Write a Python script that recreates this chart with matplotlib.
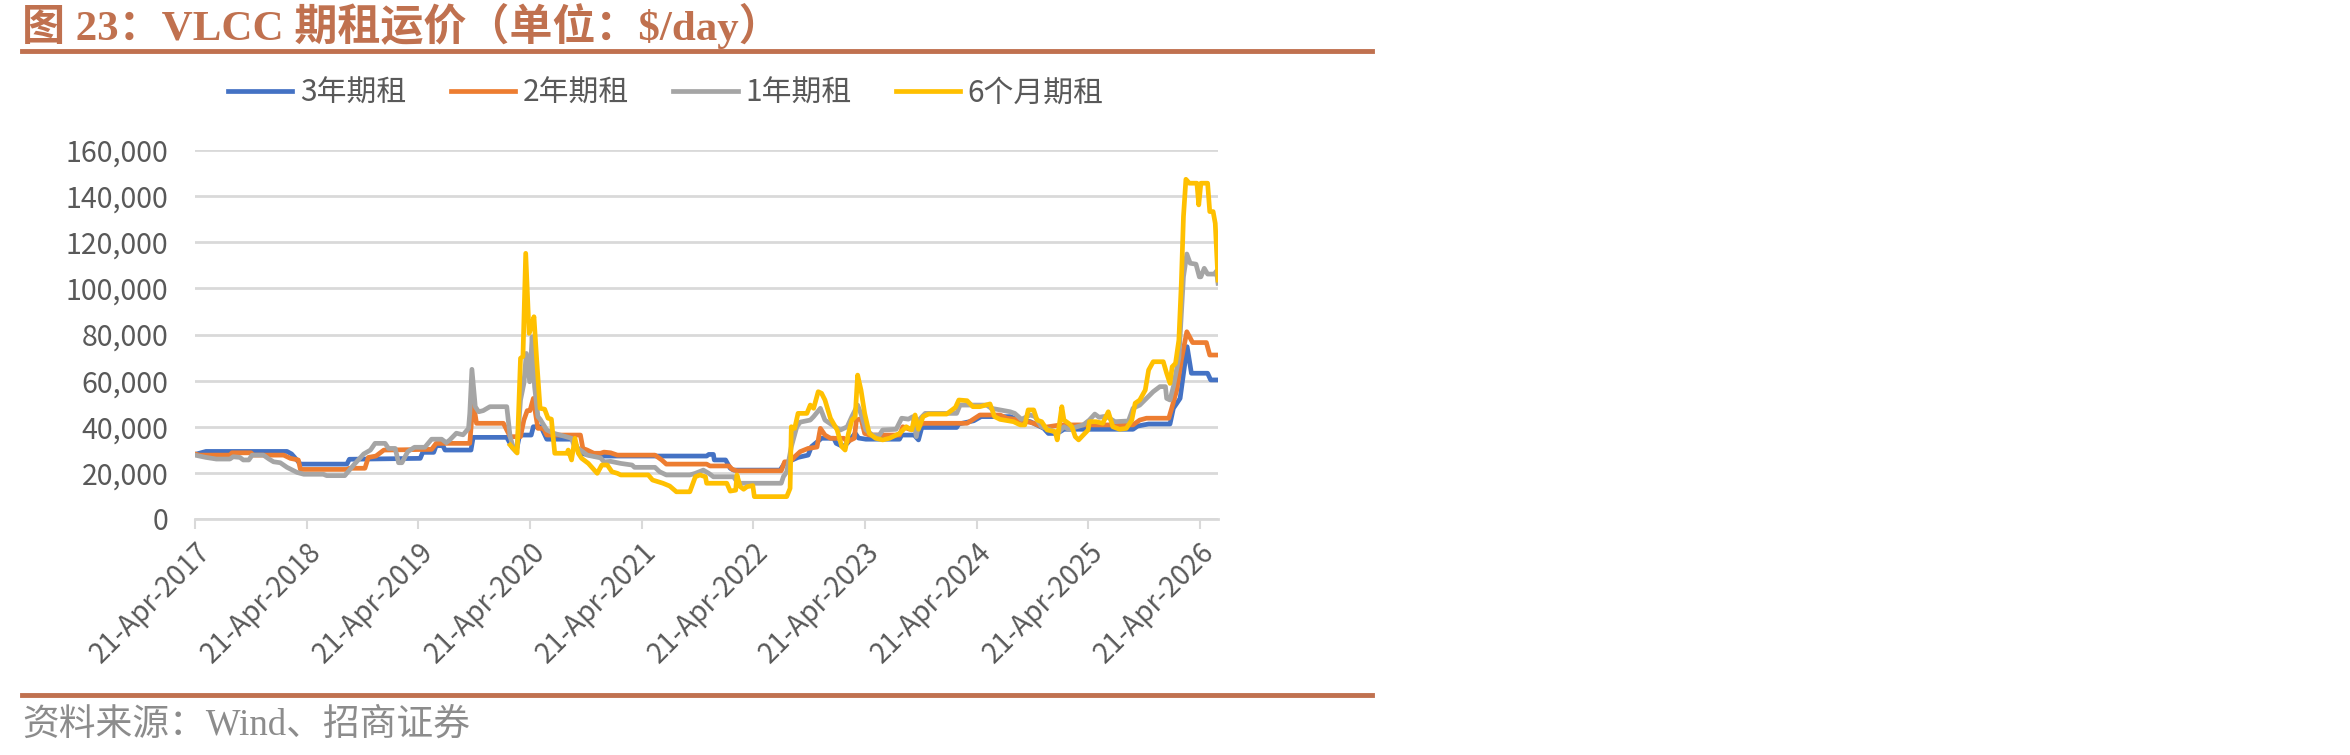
import matplotlib
matplotlib.use('Agg')
import matplotlib.pyplot as plt
import matplotlib.dates as mdates
from matplotlib.lines import Line2D
import pandas as pd
from datetime import datetime

plt.rcParams['font.family'] = ['Noto Sans CJK SC', 'DejaVu Sans']

# ---- data ($/day) ----
blue_dates = ['2017-04-21', '2017-05-27', '2018-02-16', '2018-03-03', '2018-04-01', '2018-08-31', '2018-09-08',
              '2019-04-28', '2019-05-06', '2019-06-11', '2019-06-19', '2019-07-11', '2019-07-18', '2019-10-11',
              '2019-10-18', '2020-02-05', '2020-02-23', '2020-03-07', '2020-03-18', '2020-04-25', '2020-05-02',
              '2020-05-27', '2020-06-15', '2020-09-08', '2020-10-03', '2020-11-20', '2021-11-20', '2021-11-27',
              '2021-12-12', '2021-12-15', '2022-01-21', '2022-02-05', '2022-02-16', '2022-07-18', '2022-08-02',
              '2022-09-15', '2022-10-18', '2022-10-29', '2022-12-01', '2023-01-10', '2023-01-18', '2023-02-09',
              '2023-02-23', '2023-03-21', '2023-04-01', '2023-04-25', '2023-08-13', '2023-08-20', '2023-09-30',
              '2023-10-14', '2023-10-25', '2024-02-16', '2024-02-23', '2024-04-12', '2024-05-06', '2024-08-09',
              '2024-08-31', '2024-10-14', '2024-11-27', '2024-12-12', '2025-01-10', '2025-02-01', '2025-09-15',
              '2025-09-30', '2025-11-05', '2026-01-14', '2026-01-25', '2026-02-16', '2026-03-11', '2026-03-25',
              '2026-05-17', '2026-05-27', '2026-06-20']
blue_vals = [28000, 29300, 29300, 28200, 23800, 23800, 25900,
             26300, 28900, 28900, 31800, 31800, 29900, 29900,
             35400, 35400, 31000, 29200, 36400, 36400, 40000,
             40000, 34600, 34600, 28500, 27300, 27300, 28000,
             28000, 25600, 25600, 22000, 21200, 21200, 24100,
             26700, 27700, 31400, 35000, 35000, 32800, 31400,
             32800, 37200, 35100, 34600, 34600, 36400, 36400,
             34300, 39700, 39700, 41200, 42600, 44400, 44400,
             43200, 42200, 39300, 37100, 37100, 38900, 38900,
             40300, 41200, 41200, 48000, 52300, 74700, 63200,
             63200, 60300, 60300]

orange_dates = ['2017-04-21', '2017-05-06', '2017-08-13', '2017-08-20', '2017-10-21', '2017-10-29', '2018-02-05',
                '2018-02-27', '2018-03-25', '2018-04-01', '2018-08-31', '2018-09-08', '2018-10-29', '2018-11-09',
                '2018-12-04', '2018-12-30', '2019-06-04', '2019-06-19', '2019-10-07', '2019-10-18', '2019-10-29',
                '2020-01-25', '2020-02-05', '2020-02-16', '2020-03-21', '2020-04-01', '2020-04-12', '2020-04-21',
                '2020-05-02', '2020-05-09', '2020-05-17', '2020-06-04', '2020-06-15', '2020-10-03', '2020-10-11',
                '2020-10-25', '2020-11-16', '2020-12-08', '2020-12-19', '2021-01-10', '2021-02-01', '2021-06-04',
                '2021-06-26', '2021-07-11', '2021-11-20', '2021-12-01', '2022-02-01', '2022-02-12', '2022-02-27',
                '2022-07-22', '2022-08-02', '2022-08-20', '2022-09-04', '2022-09-22', '2022-10-18', '2022-11-16',
                '2022-11-27', '2022-12-12', '2022-12-30', '2023-02-12', '2023-02-23', '2023-03-18', '2023-03-25',
                '2023-04-09', '2023-04-21', '2023-05-06', '2023-08-13', '2023-08-24', '2023-09-15', '2023-10-03',
                '2023-10-29', '2024-03-21', '2024-05-02', '2024-07-07', '2024-07-29', '2024-09-11', '2024-10-03',
                '2024-10-25', '2024-11-27', '2025-01-21', '2025-09-15', '2025-10-07', '2025-10-29', '2026-01-10',
                '2026-01-21', '2026-02-05', '2026-02-20', '2026-03-10', '2026-03-29', '2026-05-13', '2026-05-24',
                '2026-06-20']
orange_vals = [28200, 27700, 27700, 28700, 28700, 27700, 27700,
               26300, 25600, 21500, 21500, 22000, 22000, 26700,
               27300, 29900, 30200, 32800, 32800, 50900, 41500,
               41500, 38600, 35700, 35700, 42900, 47000, 47000,
               52300, 45800, 39300, 39300, 36400, 36400, 30600,
               29900, 28500, 28500, 29000, 28700, 27700, 27700,
               25600, 23800, 23800, 23000, 23000, 21500, 20900,
               20900, 24800, 24800, 27000, 29200, 30600, 31200,
               39300, 36400, 35000, 35000, 33500, 35000, 42900,
               43500, 37100, 36400, 36400, 40000, 38900, 39300,
               41500, 41500, 45100, 45100, 43700, 42900, 42200,
               41500, 39700, 40800, 40800, 42900, 43700, 43700,
               48700, 55900, 68900, 81200, 76500, 76500, 71100,
               71100]

gray_dates = ['2017-04-21', '2017-05-27', '2017-06-30', '2017-08-13', '2017-08-24', '2017-09-15', '2017-09-26',
              '2017-10-14', '2017-10-25', '2017-12-01', '2017-12-19', '2018-01-03', '2018-01-25', '2018-02-16',
              '2018-03-21', '2018-04-12', '2018-06-15', '2018-06-26', '2018-08-24', '2018-09-08', '2018-09-22',
              '2018-10-07', '2018-10-25', '2018-11-16', '2018-12-01', '2019-01-03', '2019-01-14', '2019-02-05',
              '2019-02-16', '2019-02-27', '2019-03-18', '2019-04-09', '2019-05-13', '2019-06-04', '2019-07-07',
              '2019-07-22', '2019-08-02', '2019-08-24', '2019-09-15', '2019-10-03', '2019-10-07', '2019-10-14',
              '2019-10-25', '2019-11-05', '2019-11-20', '2019-12-12', '2020-02-05', '2020-02-16', '2020-02-27',
              '2020-03-10', '2020-03-21', '2020-04-01', '2020-04-09', '2020-04-20', '2020-04-28', '2020-05-06',
              '2020-05-17', '2020-05-24', '2020-06-15', '2020-07-07', '2020-09-04', '2020-09-15', '2020-10-03',
              '2020-10-25', '2020-12-08', '2020-12-19', '2021-01-10', '2021-02-12', '2021-03-21', '2021-03-29',
              '2021-06-04', '2021-06-19', '2021-07-11', '2021-09-26', '2021-10-14', '2021-11-09', '2021-11-27',
              '2021-12-12', '2022-02-16', '2022-02-27', '2022-03-10', '2022-07-22', '2022-07-29', '2022-08-09',
              '2022-08-24', '2022-09-11', '2022-09-22', '2022-10-25', '2022-11-05', '2022-11-27', '2022-12-12',
              '2023-01-10', '2023-02-01', '2023-02-23', '2023-03-10', '2023-03-29', '2023-04-12', '2023-04-25',
              '2023-05-17', '2023-06-08', '2023-06-19', '2023-08-02', '2023-08-20', '2023-09-11', '2023-09-26',
              '2023-10-07', '2023-10-18', '2023-11-05', '2024-02-16', '2024-02-27', '2024-05-24', '2024-06-08',
              '2024-07-07', '2024-08-09', '2024-08-24', '2024-09-15', '2024-10-14', '2024-10-29', '2024-11-20',
              '2024-12-19', '2025-01-10', '2025-02-01', '2025-02-16', '2025-04-05', '2025-04-25', '2025-05-13',
              '2025-05-27', '2025-06-19', '2025-07-18', '2025-08-31', '2025-09-15', '2025-10-07', '2025-10-29',
              '2025-11-20', '2025-12-12', '2025-12-30', '2026-01-03', '2026-01-14', '2026-01-25', '2026-02-12',
              '2026-02-27', '2026-03-10', '2026-03-21', '2026-04-09', '2026-04-20', '2026-04-25', '2026-05-06',
              '2026-05-17', '2026-06-08', '2026-06-15', '2026-06-20']
gray_vals = [27700, 26700, 26000, 26000, 27000, 26700, 25600,
             25600, 27700, 27700, 26000, 24800, 24400, 22400,
             20200, 19400, 19400, 18800, 18800, 21200, 23400,
             25600, 28200, 29900, 32800, 32800, 30600, 30600,
             24400, 24400, 29200, 31100, 31100, 34600, 34600,
             33100, 34200, 37200, 36500, 39300, 45800, 64900,
             48700, 46500, 47000, 48700, 48700, 35700, 30600,
             31300, 51600, 58800, 71800, 59500, 79000, 57400,
             44400, 43300, 38600, 37200, 35000, 30600, 29900,
             27700, 26500, 24800, 25000, 24100, 23400, 22400,
             22400, 20500, 19100, 19100, 19800, 21200, 19800,
             18300, 18300, 16200, 15500, 15500, 18300, 20500,
             31300, 40000, 42000, 42900, 44400, 48000, 42900,
             40300, 38600, 40000, 44400, 49400, 44400, 38600,
             36400, 36400, 38600, 38900, 43700, 43300, 44400,
             35700, 43300, 45800, 45800, 49400, 49400, 48000,
             47300, 46500, 45800, 43200, 45100, 44400, 40000,
             38600, 37100, 40000, 38900, 40800, 42900, 45500,
             44100, 44600, 42200, 42500, 48000, 49400, 52300,
             55200, 57400, 57400, 52300, 51600, 57400, 70000,
             105000, 114900, 110900, 110500, 105000, 105000, 108700,
             106200, 106200, 107500, 102200]

yellow_dates = ['2020-02-16', '2020-03-10', '2020-03-21', '2020-03-29', '2020-04-07', '2020-04-18', '2020-04-26',
                '2020-05-04', '2020-05-13', '2020-05-24', '2020-06-08', '2020-06-19', '2020-06-30', '2020-07-11',
                '2020-08-20', '2020-08-24', '2020-09-04', '2020-09-15', '2020-09-26', '2020-10-07', '2020-10-29',
                '2020-11-27', '2020-12-12', '2020-12-30', '2021-01-14', '2021-02-01', '2021-02-12', '2021-05-13',
                '2021-05-27', '2021-06-30', '2021-07-22', '2021-08-13', '2021-09-26', '2021-10-14', '2021-10-29',
                '2021-11-16', '2021-11-20', '2022-01-25', '2022-02-05', '2022-02-23', '2022-02-27', '2022-03-10',
                '2022-03-21', '2022-04-01', '2022-04-20', '2022-04-25', '2022-08-09', '2022-08-20', '2022-08-24',
                '2022-09-04', '2022-09-15', '2022-10-14', '2022-10-25', '2022-11-05', '2022-11-20', '2022-12-01',
                '2022-12-12', '2022-12-30', '2023-01-21', '2023-02-05', '2023-02-16', '2023-02-27', '2023-03-10',
                '2023-03-21', '2023-03-29', '2023-04-09', '2023-04-21', '2023-05-06', '2023-05-27', '2023-06-19',
                '2023-07-11', '2023-08-13', '2023-09-04', '2023-09-22', '2023-10-03', '2023-10-14', '2023-10-29',
                '2023-11-16', '2024-01-14', '2024-02-12', '2024-02-23', '2024-03-21', '2024-04-09', '2024-05-02',
                '2024-06-04', '2024-06-19', '2024-07-07', '2024-08-20', '2024-09-11', '2024-09-26', '2024-10-07',
                '2024-10-25', '2024-11-05', '2024-11-20', '2024-12-08', '2025-01-03', '2025-01-10', '2025-01-25',
                '2025-02-01', '2025-02-16', '2025-02-27', '2025-03-10', '2025-03-21', '2025-04-05', '2025-04-21',
                '2025-04-25', '2025-05-17', '2025-06-08', '2025-06-26', '2025-07-11', '2025-08-02', '2025-08-24',
                '2025-09-11', '2025-09-22', '2025-10-07', '2025-10-25', '2025-11-05', '2025-11-20', '2025-12-23',
                '2026-01-03', '2026-01-14', '2026-01-21', '2026-02-01', '2026-02-12', '2026-02-20', '2026-02-27',
                '2026-03-07', '2026-03-18', '2026-04-12', '2026-04-18', '2026-04-25', '2026-05-17', '2026-05-24',
                '2026-06-04', '2026-06-11', '2026-06-20']
yellow_vals = [32100, 28600, 69700, 70500, 115200, 80500, 83400,
               87700, 68900, 48000, 47600, 43700, 43300, 28500,
               28500, 29900, 25600, 35000, 28500, 26300, 24100,
               19800, 23400, 23400, 20500, 19800, 19100, 19100,
               16900, 15500, 14300, 11800, 11800, 18300, 19100,
               18300, 15500, 15500, 12100, 12500, 19100, 14000,
               12900, 14000, 14500, 9700, 9700, 13300, 40000,
               39300, 45800, 45800, 49400, 48000, 55200, 54500,
               51600, 43700, 38600, 31400, 29900, 37100, 42900,
               44400, 62400, 55900, 45800, 37100, 35000, 34300,
               35000, 37100, 40000, 38600, 45100, 38900, 44400,
               45500, 45500, 48400, 51600, 51300, 48700, 48700,
               49900, 44400, 43200, 42200, 40800, 40800, 47300,
               47300, 42900, 42200, 38600, 37900, 34300, 48700,
               42900, 41500, 40000, 35700, 34300, 36400, 38600,
               42200, 42200, 41500, 46500, 40000, 38900, 39300,
               42900, 50200, 51600, 55900, 64600, 68200, 68200,
               63200, 58800, 66000, 67500, 77600, 102200, 131100,
               147300, 145600, 145600, 136200, 145600, 145600, 133300,
               133300, 128200, 103600]

series_names = ['3年期租', '2年期租', '1年期租', '6个月期租']
series_colors = ['#4472C4', '#ED7D31', '#A5A5A5', '#FFC000']
tick_years = list(range(2017, 2027))
y_ticks = list(range(0, 160001, 20000))

fig = plt.figure(figsize=(23.5, 7.55), dpi=100)
ax = fig.add_axes([195 / 2350, 1 - 519 / 755, (1218 - 195) / 2350, (519 - 150) / 755])

all_dates = [blue_dates, orange_dates, gray_dates, yellow_dates]
all_vals = [blue_vals, orange_vals, gray_vals, yellow_vals]
for d, v, c, name in zip(all_dates, all_vals, series_colors, series_names):
    ax.plot(pd.to_datetime(d), v, color=c, lw=3.4, label=name, solid_joinstyle='round')

ax.set_ylim(0, 160000)
ax.set_xlim(datetime(2017, 4, 21), datetime(2026, 6, 20))
ax.set_yticks(y_ticks)
ax.set_yticklabels([f'{t:,}' for t in y_ticks])
ax.set_xticks([mdates.date2num(datetime(y, 4, 21)) for y in tick_years])
ax.set_xticklabels([f'21-Apr-{y}' for y in tick_years], rotation=45, ha='right',
                   rotation_mode='anchor')
ax.grid(axis='y', color='#D9D9D9', lw=2)
ax.set_axisbelow(True)
for s in ['top', 'right', 'left']:
    ax.spines[s].set_visible(False)
ax.spines['bottom'].set_color('#D9D9D9')
ax.spines['bottom'].set_linewidth(2)
ax.tick_params(axis='y', length=0, labelsize=20.5, labelcolor='#595959', pad=19)
ax.tick_params(axis='x', length=7, width=1.5, color='#D9D9D9', labelsize=20,
               labelcolor='#595959', pad=6)

handles = [Line2D([0], [0], color=c, lw=3.4) for c in series_colors]
fig.legend(handles, series_names, loc='center left', bbox_to_anchor=(228 / 2350, 1 - 93 / 755),
           ncol=4, frameon=False, fontsize=21.5, handlelength=2.15, columnspacing=1.5,
           handletextpad=0.25, borderpad=0, borderaxespad=0, labelcolor='#595959')

# title, rules and source
title_color = '#C0714F'
fig.text(22 / 2350, 1 - 26 / 755, '图 23：VLCC 期租运价（单位：$/day）', fontsize=31,
         fontweight='bold', color=title_color, va='center', ha='left',
         family=['Liberation Serif', 'Noto Sans CJK SC'])
fig.add_artist(Line2D([22 / 2350, 1372 / 2350], [1 - 51 / 755, 1 - 51 / 755],
                      color=title_color, lw=3.5))
fig.add_artist(Line2D([22 / 2350, 1372 / 2350], [1 - 695 / 755, 1 - 695 / 755],
                      color=title_color, lw=3.5))
fig.text(22 / 2350, 1 - 725 / 755, '资料来源：Wind、招商证券', fontsize=26.5, color='#8C8C8C',
         va='center', ha='left', family=['Liberation Serif', 'Noto Sans CJK SC'])

fig.savefig('out.png', dpi=100)
